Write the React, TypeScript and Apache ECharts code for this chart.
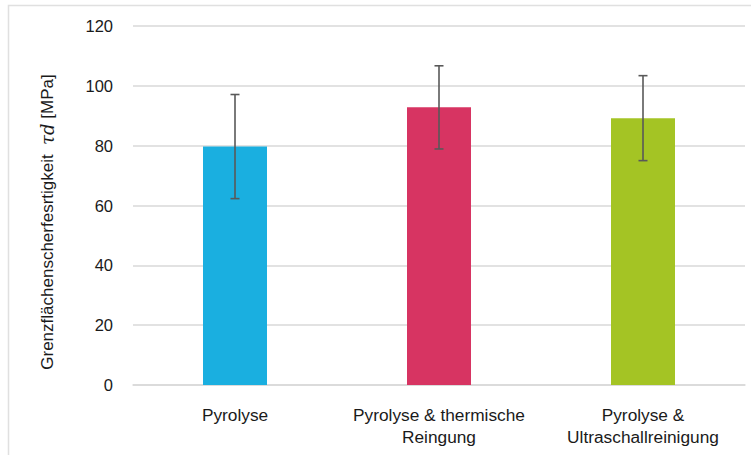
import React, { useEffect, useRef } from "react";
import * as echarts from "echarts";

const categories = [
  "Pyrolyse",
  "Pyrolyse & thermische\nReingung",
  "Pyrolyse &\nUltraschallreinigung",
];
const means = [79.7, 92.8, 89.2];
const stdDevs = [17.4, 13.9, 14.2];
const barColors = ["#1AAFE0", "#D73462", "#A4C424"];
const yTicks = [0, 20, 40, 60, 80, 100, 120];

const SANS = "'Liberation Sans', Arial, sans-serif";

export default function App() {
  const ref = useRef<HTMLDivElement>(null);

  useEffect(() => {
    if (!ref.current) return;
    const chart = echarts.init(ref.current, undefined, { renderer: "svg" });

    const errData = categories.map((_, i) => [i, means[i] - stdDevs[i], means[i] + stdDevs[i]]);

    chart.setOption({
      animation: false,
      backgroundColor: "#ffffff",
      grid: { left: 133, right: 6, top: 26, bottom: 70 },
      xAxis: {
        type: "category",
        data: categories,
        axisLine: { show: true, lineStyle: { color: "#d9d9d9", width: 1.5 } },
        axisTick: { show: false },
        axisLabel: {
          color: "#1a1a1a",
          fontFamily: SANS,
          fontSize: 17.3,
          lineHeight: 22,
          margin: 19,
          interval: 0,
        },
      },
      yAxis: {
        type: "value",
        min: yTicks[0],
        max: yTicks[yTicks.length - 1],
        interval: 20,
        axisLine: { show: false },
        axisTick: { show: false },
        splitLine: { lineStyle: { color: "#d9d9d9", width: 1.5 } },
        axisLabel: {
          color: "#1a1a1a",
          fontFamily: SANS,
          fontSize: 16.5,
          margin: 20,
        },
      },
      graphic: [
        {
          type: "rect",
          shape: { x: 8.5, y: 5.5, width: 760, height: 470 },
          style: { fill: "none", stroke: "#e0e0e0", lineWidth: 1.5 },
          silent: true,
        },
        {
          type: "text",
          x: 47.5,
          y: 222,
          rotation: Math.PI / 2,
          style: {
            text: "{a|Grenzflächenscherfesrtigkeit  }{m|τd}{a| [MPa]}",
            align: "center",
            verticalAlign: "middle",
            rich: {
              a: { fontFamily: SANS, fontSize: 17, fill: "#1a1a1a" },
              m: {
                fontFamily: "'DejaVu Serif', 'Liberation Serif', serif",
                fontStyle: "italic",
                fontSize: 18,
                fill: "#1a1a1a",
              },
            },
          },
        },
      ],
      series: [
        {
          type: "bar",
          barWidth: 64,
          data: means.map((v, i) => ({ value: v, itemStyle: { color: barColors[i] } })),
        },
        {
          type: "custom",
          data: errData,
          encode: { x: 0, y: [1, 2] },
          z: 5,
          renderItem: (params: any, api: any) => {
            const idx = api.value(0);
            const lo = api.coord([idx, api.value(1)]);
            const hi = api.coord([idx, api.value(2)]);
            const half = 4.5;
            const style = { stroke: "#595959", lineWidth: 1.6 };
            return {
              type: "group",
              children: [
                { type: "line", shape: { x1: hi[0], y1: hi[1], x2: lo[0], y2: lo[1] }, style },
                { type: "line", shape: { x1: hi[0] - half, y1: hi[1], x2: hi[0] + half, y2: hi[1] }, style },
                { type: "line", shape: { x1: lo[0] - half, y1: lo[1], x2: lo[0] + half, y2: lo[1] }, style },
              ],
            };
          },
        },
      ],
    });

    return () => chart.dispose();
  }, []);

  return (
    <div
      ref={ref}
      style={{ position: "fixed", left: 0, top: 0, width: 751, height: 455 }}
    />
  );
}
